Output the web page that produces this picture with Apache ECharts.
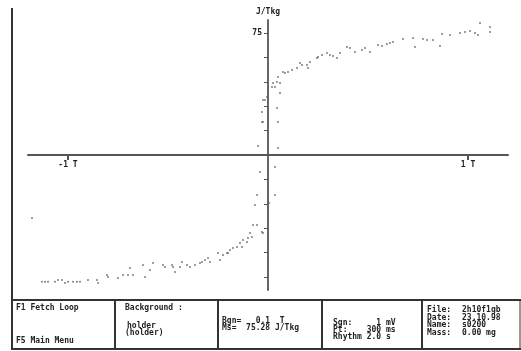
<!DOCTYPE html>
<html>
<head>
<meta charset="utf-8">
<script src="https://cdn.jsdelivr.net/npm/echarts@6/dist/echarts.min.js"></script>
<style>
  html, body { margin: 0; padding: 0; background: #fff; }
  #chart { width: 521px; height: 351px; }
</style>
</head>
<body>
<div id="chart"></div>
<script>
// field in T, magnetisation in J/T/kg
const upperBranch = [
  [1.06, 81.1], [1.11, 78.7], [1.11, 75.6], [0.96, 75], [0.985, 75.6], [1.01, 76.2],
  [1.035, 75], [1.05, 73.8], [0.91, 73.8], [0.87, 74.4], [0.86, 67], [0.775, 71.3],
  [0.825, 70.7], [0.795, 70.7], [0.725, 71.9], [0.735, 66.4], [0.675, 71.3], [0.625, 69.5],
  [0.61, 68.8], [0.595, 68.2], [0.55, 67.6], [0.57, 67], [0.51, 63.3], [0.47, 64.5],
  [0.485, 65.8], [0.435, 63.3], [0.41, 65.8], [0.395, 66.4], [0.36, 62.7], [0.345, 59.6],
  [0.295, 62.7], [0.31, 61.5], [0.325, 60.8], [0.27, 61.5], [0.245, 59.6], [0.25, 60.2],
  [0.21, 57.2], [0.195, 55.3], [0.2, 53.5], [0.16, 56.5], [0.17, 55.3], [0.145, 53.5],
  [0.12, 52.2], [0.1, 51], [0.085, 50.4], [0.075, 51], [0.05, 47.9], [0.045, 44.9],
  [0.06, 44.3], [0.025, 44.3], [0.02, 41.8], [0.035, 41.8], [0.06, 38.1], [-0.005, 35.6],
  [-0.015, 33.8]
];

const centerPoints = [
  [0.045, 28.9], [-0.025, 33.8], [-0.03, 26.4], [-0.025, 20.3], [-0.03, 20.3], [0.05, 20.3],
  [-0.05, 5.5], [0.05, 4.3], [-0.04, -10.4], [0.035, -7.4], [-0.055, -24.6], [0.035, -24.6],
  [-0.065, -30.7], [0.005, -29.5]
];

const lowerBranch = [
  [-1.18, -38.7], [-0.075, -43], [-0.055, -43], [-0.03, -47.3], [-0.025, -47.9], [-0.09, -47.9],
  [-0.1, -51], [-0.08, -50.4], [-0.125, -52.2], [-0.105, -53.5], [-0.14, -54.1], [-0.13, -56.5],
  [-0.155, -56.5], [-0.175, -57.2], [-0.19, -58.4], [-0.205, -60.2], [-0.225, -61.5], [-0.2, -60.2],
  [-0.25, -60.2], [-0.24, -64.5], [-0.3, -63.3], [-0.29, -65.8], [-0.315, -64.5], [-0.33, -65.8],
  [-0.34, -66.4], [-0.365, -67.6], [-0.39, -68.8], [-0.405, -67.6], [-0.43, -65.8], [-0.44, -68.8],
  [-0.465, -71.9], [-0.48, -67.6], [-0.475, -68.8], [-0.525, -67.6], [-0.515, -68.8], [-0.575, -66.4],
  [-0.59, -70.7], [-0.625, -67.6], [-0.615, -75], [-0.69, -69.5], [-0.675, -73.8], [-0.7, -73.8],
  [-0.725, -73.8], [-0.75, -75.6], [-0.805, -73.8], [-0.8, -75], [-0.855, -76.8], [-0.85, -78.7],
  [-0.9, -76.8], [-0.94, -78], [-0.955, -78], [-0.975, -78], [-1.0, -78], [-1.015, -78.7],
  [-1.03, -76.8], [-1.05, -76.8], [-1.065, -78], [-1.1, -78], [-1.115, -78], [-1.13, -78]
];

const xTickValues = [-1, 1];
const xTickLabels = { "-1": "-1 T", "1": "1 T" };
const yTickValues = [-75, -60, -45, -30, -15, 15, 30, 45, 60, 75];
const yLabelValues = [75];

const menuLines = ["F1 Fetch Loop", "F5 Main Menu"];
const backgroundLines = ["Background :", "holder", "(holder)"];
const fieldLines = ["Bgn=   0.1  T", "Ms=  75.28 J/Tkg"];
const signalLines = ["Sgn:     1 mV", "Pt:    300 ms", "Rhythm 2.0 s"];
const fileLabels = ["File:", "Date:", "Name:", "Mass:"];
const fileValues = ["2h10f1gb", "23.10.98", "s0200", "0.00 mg"];

// plot box: x -1.2..1.2 over 28..508 px, y -83..83 over 290..20 px
const gridLeft = 28, gridRight = 13, gridTop = 20, gridBottom = 61;
const xMin = -1.2, xMax = 1.2, yMin = -83, yMax = 83;
const plotW = 521 - gridLeft - gridRight, plotH = 351 - gridTop - gridBottom;
// shift each axis from the grid edge onto the other axis's zero
const xAxisOffset = -plotH * (0 - yMin) / (yMax - yMin);
const yAxisOffset = -plotW * (0 - xMin) / (xMax - xMin);

const mono = "'DejaVu Sans Mono', 'Liberation Mono', monospace";
const txt = (x, y, s) => ({
  type: "text", x, y, silent: true,
  style: { text: s, fill: "#222", font: "bold 8px " + mono, textVerticalAlign: "middle" }
});
const line = (x1, y1, x2, y2, w) => ({
  type: "line", silent: true,
  shape: { x1, y1, x2, y2 },
  style: { stroke: "#333", lineWidth: w || 2 }
});

const graphics = [
  line(12, 8, 12, 350, 2),
  line(12, 300, 521, 300, 2),
  line(12, 349, 521, 349, 2),
  line(115, 300, 115, 349, 2),
  line(218, 300, 218, 349, 2),
  line(322, 300, 322, 349, 2),
  line(422, 300, 422, 349, 2),
  line(520, 300, 520, 349, 1),
  txt(16, 308, menuLines[0]),
  txt(16, 341, menuLines[1]),
  txt(125, 308, backgroundLines[0]),
  txt(127, 326, backgroundLines[1]),
  txt(125, 333, backgroundLines[2]),
  txt(222, 321, fieldLines[0]),
  txt(222, 328, fieldLines[1]),
  txt(333, 323, signalLines[0]),
  txt(333, 330, signalLines[1]),
  txt(333, 337, signalLines[2])
];
fileLabels.forEach((s, i) => graphics.push(txt(427, 310 + i * 7.5, s)));
fileValues.forEach((s, i) => graphics.push(txt(462, 310 + i * 7.5, s)));

const pointStyle = { color: "#5e5e5e" };
const labelFont = { color: "#222", fontFamily: mono, fontWeight: "bold", fontSize: 8 };

const chart = echarts.init(document.getElementById("chart"), null, { renderer: "canvas" });
chart.setOption({
  animation: false,
  backgroundColor: "#fff",
  grid: { left: gridLeft, right: gridRight, top: gridTop, bottom: gridBottom },
  xAxis: {
    type: "value",
    min: xMin,
    max: xMax,
    position: "bottom",
    offset: xAxisOffset,
    splitLine: { show: false },
    axisLine: { onZero: false, lineStyle: { color: "#555", width: 2 } },
    axisTick: { customValues: xTickValues, length: 5, lineStyle: { color: "#555", width: 2 } },
    axisLabel: Object.assign({
      customValues: xTickValues,
      margin: 6,
      formatter: (v) => xTickLabels[String(v)]
    }, labelFont)
  },
  yAxis: {
    type: "value",
    min: yMin,
    max: yMax,
    position: "left",
    offset: yAxisOffset,
    name: "J/Tkg",
    nameLocation: "end",
    nameGap: 4,
    nameTextStyle: Object.assign({ align: "center" }, labelFont),
    splitLine: { show: false },
    axisLine: { onZero: false, lineStyle: { color: "#666", width: 2 } },
    axisTick: { customValues: yTickValues, length: 4, lineStyle: { color: "#555", width: 1 } },
    axisLabel: Object.assign({ customValues: yLabelValues, margin: 6 }, labelFont)
  },
  series: [
    { type: "scatter", name: "up", data: upperBranch, symbolSize: 2, itemStyle: pointStyle, silent: true },
    { type: "scatter", name: "center", data: centerPoints, symbolSize: 2, itemStyle: pointStyle, silent: true },
    { type: "scatter", name: "down", data: lowerBranch, symbolSize: 2, itemStyle: pointStyle, silent: true }
  ],
  graphic: graphics
});
</script>
</body>
</html>
